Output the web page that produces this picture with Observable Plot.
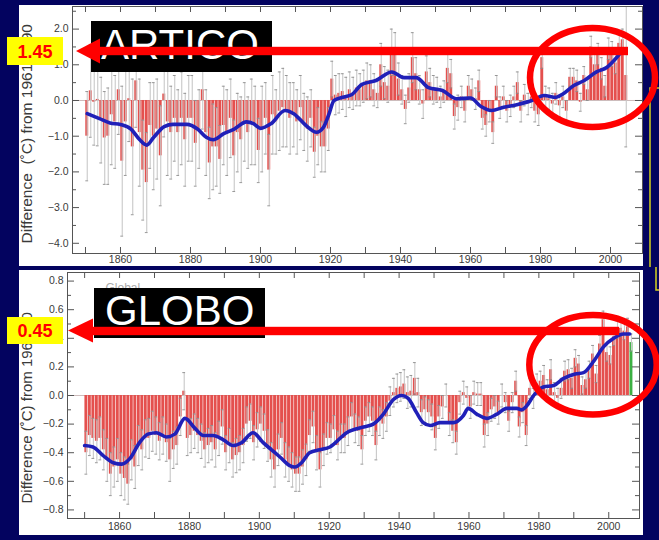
<!DOCTYPE html>
<html><head><meta charset="utf-8">
<script src="https://cdn.jsdelivr.net/npm/d3@7"></script>
<script src="https://cdn.jsdelivr.net/npm/@observablehq/plot@0.6"></script>
<style>
html,body{margin:0;padding:0;}
body{width:659px;height:540px;background:#03035f;position:relative;overflow:hidden;font-family:"Liberation Sans",Arial,sans-serif;}
#top{position:absolute;left:19px;top:5px;}
#bot{position:absolute;left:19px;top:270px;}
#ann{position:absolute;left:0;top:0;pointer-events:none;}
</style></head><body>
<div id="top"></div>
<div id="bot"></div>
<svg id="ann" width="659" height="540" xmlns="http://www.w3.org/2000/svg" font-family="Liberation Sans, Arial, sans-serif">
  <polyline points="659,88 650,88 650,267" fill="none" stroke="#d6d21e" stroke-width="1.5"/>
  <polyline points="656,267 656,290 659,290" fill="none" stroke="#d6d21e" stroke-width="1.5"/>
  <ellipse cx="592.5" cy="77.5" rx="62.5" ry="49.5" fill="none" stroke="#ff0000" stroke-width="6.5"/>
  <rect x="91" y="21" width="181" height="51" fill="#000"/>
  <text x="101" y="58.5" font-size="42" fill="#fff">ARTICO</text>
  <rect x="98" y="46.8" width="530" height="8.4" fill="#ff0000"/>
  <polygon points="76,51 100,38.5 100,63.5" fill="#ff0000"/>
  <rect x="7" y="37" width="56" height="28" fill="#ffff00"/>
  <text x="35" y="57.5" font-size="18" font-weight="bold" fill="#ff0000" text-anchor="middle">1.45</text>

  <ellipse cx="593" cy="364.7" rx="63.7" ry="49.7" fill="none" stroke="#ff0000" stroke-width="6.5"/>
  <rect x="94" y="288" width="171" height="50" fill="#000"/>
  <text x="105" y="325" font-size="42" fill="#fff">GLOBO</text>
  <rect x="90" y="326.8" width="529" height="8.4" fill="#ff0000"/>
  <polygon points="68,330.5 93,318.5 93,342.5" fill="#ff0000"/>
  <rect x="7" y="317" width="56" height="27" fill="#ffff00"/>
  <text x="35" y="337" font-size="18" font-weight="bold" fill="#ff0000" text-anchor="middle">0.45</text>
</svg>
<script>
// ---------- Arctic (top panel) ----------
const arcticStart = 1850;
const arcticValues = [
  -1.00, 0.27, -0.05, 0.03, -0.55, -1.05, -1.00, -0.40, -0.60, 0.30,
  -1.70, -0.60, 0.05, -1.30, 0.55, -0.90, -1.95, -2.30, -0.70, -1.00,
  -0.80, -1.55, 0.18, -0.60, -0.90, -0.50, -0.90, -0.50, -1.10, -0.50,
  -0.50, -1.20, -0.80, 0.30, -0.90, -1.75, -1.30, -1.30, -1.65, -0.70,
  -0.90, -0.50, -1.55, -0.90, -1.10, -0.60, -0.90, -0.60, -0.70, -1.40,
  -0.80, -0.50, -1.95, -0.40, -0.60, -0.30, -0.20, -0.30, -0.50, -0.40,
  -0.60, -0.20, -0.60, -0.80, -0.50, -1.45, -1.00, -1.30, -1.30, -0.80,
  0.60, 0.15, 0.20, 0.25, 0.10, 0.30, 0.20, 0.35, 0.30, 0.40,
  0.55, 0.55, 0.30, 0.20, 1.00, 0.50, 0.40, 1.35, 1.30, 0.60,
  0.30, -0.25, 0.35, 1.20, 0.75, 0.30, -0.10, 0.80, 0.50, 0.30,
  0.30, 0.10, 0.25, 0.90, 0.75, -0.45, -0.20, 0.10, -0.30, 0.40,
  0.30, 0.05, 0.55, -0.50, -0.70, -0.30, -0.90, 0.40, -0.20, 0.10,
  -0.30, -0.15, 0.10, 0.50, -0.30, 0.15, -0.10, 0.10, -0.30, -0.40,
  1.20, 0.10, 0.05, -0.10, 0.20, -0.15, 0.10, -0.30, 0.65, 0.65,
  0.55, -0.05, 0.70, 0.30, 1.50, 1.00, 1.30, 0.90, 0.40, 1.45,
  1.30, 1.05, 1.60, 1.70, 0.70
];
const arcticErrors = [
  1.25, 1.30, 1.20, 1.30, 1.20, 1.30, 1.35, 1.40, 1.30, 1.25,
  2.10, 1.50, 1.20, 1.90, 1.30, 1.50, 1.40, 1.40, 1.20, 1.50,
  1.40, 1.40, 1.20, 1.50, 1.30, 1.20, 1.20, 1.30, 1.30, 1.20,
  1.20, 1.20, 1.10, 1.10, 1.20, 1.00, 1.20, 1.10, 0.95, 1.10,
  1.20, 1.10, 1.00, 1.10, 1.20, 1.10, 1.00, 1.20, 1.10, 0.90,
  1.20, 1.00, 1.00, 1.10, 0.90, 1.10, 1.10, 1.00, 1.00, 0.90,
  0.90, 0.90, 0.80, 0.90, 0.80, 0.70, 0.80, 0.70, 0.70, 0.60,
  0.50, 0.55, 0.55, 0.50, 0.55, 0.50, 0.45, 0.50, 0.45, 0.45,
  0.50, 0.45, 0.45, 0.40, 0.60, 0.45, 0.45, 0.65, 0.60, 0.45,
  0.40, 0.40, 0.40, 0.70, 0.45, 0.40, 0.40, 0.45, 0.40, 0.40,
  0.35, 0.30, 0.30, 0.40, 0.40, 0.35, 0.35, 0.30, 0.30, 0.30,
  0.30, 0.30, 0.30, 0.30, 0.30, 0.30, 0.30, 0.30, 0.30, 0.30,
  0.30, 0.30, 0.30, 0.30, 0.30, 0.30, 0.30, 0.30, 0.30, 0.30,
  0.30, 0.30, 0.30, 0.30, 0.30, 0.30, 0.30, 0.30, 0.25, 0.25,
  0.30, 0.25, 0.25, 0.30, 0.30, 0.30, 0.30, 0.30, 0.30, 0.30,
  0.35, 0.30, 0.30, 0.30, 2.00
];
const arcticSmoothYears = [
  1850.5, 1854, 1857, 1860, 1863, 1865.5, 1867.5, 1869.5, 1872.5, 1875, 1879,
  1882, 1884.5, 1886.5, 1889.5, 1892.5, 1896, 1898, 1900, 1903, 1907, 1909.5,
  1913, 1916, 1918, 1919.5, 1921, 1923.5, 1926, 1929, 1933, 1937.5, 1941, 1944.5,
  1948, 1952, 1956, 1960, 1963, 1966, 1969.5, 1973.5, 1977.5, 1981, 1984.5,
  1986.5, 1989.5, 1992.5, 1996, 1999, 2001, 2003.5
];
const arcticSmoothValues = [
  -0.37, -0.51, -0.63, -0.67, -0.80, -1.10, -1.25, -1.03, -0.73, -0.67, -0.67,
  -0.80, -1.03, -1.10, -0.93, -0.80, -0.60, -0.65, -0.78, -0.65, -0.28, -0.37,
  -0.70, -0.89, -0.75, -0.40, 0.00, 0.09, 0.16, 0.45, 0.56, 0.80, 0.64, 0.64,
  0.36, 0.28, 0.05, 0.07, -0.17, -0.28, -0.19, -0.11, 0.00, 0.14, 0.09,
  0.19, 0.42, 0.56, 0.80, 0.93, 1.12, 1.42
];
const arcticYTicks = [-4, -3.5, -3, -2.5, -2, -1.5, -1, -0.5, 0, 0.5, 1, 1.5, 2, 2.5];
const arcticYLabels = [-4, -3, -2, -1, 0, 1, 2];

// ---------- Globe (bottom panel) ----------
const globeStart = 1850;
const globeValues = [
  -0.40, -0.28, -0.30, -0.32, -0.30, -0.38, -0.45, -0.55, -0.50, -0.45,
  -0.55, -0.58, -0.62, -0.45, -0.50, -0.35, -0.38, -0.30, -0.30, -0.25,
  -0.28, -0.32, -0.28, -0.33, -0.45, -0.38, -0.35, -0.15, 0.03, -0.30,
  -0.28, -0.25, -0.28, -0.32, -0.38, -0.35, -0.33, -0.38, -0.30, -0.22,
  -0.40, -0.35, -0.45, -0.42, -0.40, -0.35, -0.20, -0.18, -0.33, -0.24,
  -0.20, -0.25, -0.35, -0.45, -0.52, -0.38, -0.30, -0.45, -0.48, -0.52,
  -0.55, -0.55, -0.50, -0.45, -0.28, -0.22, -0.40, -0.52, -0.38, -0.30,
  -0.30, -0.24, -0.35, -0.30, -0.30, -0.25, -0.15, -0.23, -0.25, -0.38,
  -0.18, -0.15, -0.18, -0.35, -0.18, -0.20, -0.15, -0.04, 0.02, 0.05,
  0.06, 0.08, 0.02, 0.03, 0.12, 0.02, -0.12, -0.10, -0.12, -0.15,
  -0.30, -0.15, -0.08, 0.00, -0.20, -0.25, -0.33, -0.05, 0.02, -0.02,
  -0.08, 0.02, 0.01, 0.01, -0.28, -0.20, -0.10, -0.08, -0.12, 0.00,
  -0.05, -0.18, -0.05, 0.10, -0.22, -0.12, -0.28, 0.05, -0.02, 0.08,
  0.10, 0.14, 0.04, 0.18, 0.02, -0.02, 0.05, 0.17, 0.18, 0.12,
  0.26, 0.22, 0.07, 0.11, 0.18, 0.29, 0.15, 0.36, 0.53, 0.30,
  0.28, 0.41, 0.46, 0.47, 0.45, 0.48, 0.37
];
const globeErrors = [
  0.15, 0.14, 0.14, 0.15, 0.15, 0.14, 0.15, 0.15, 0.14, 0.15,
  0.15, 0.15, 0.14, 0.14, 0.15, 0.14, 0.14, 0.13, 0.14, 0.14,
  0.13, 0.13, 0.13, 0.13, 0.15, 0.13, 0.13, 0.13, 0.13, 0.12,
  0.12, 0.12, 0.12, 0.12, 0.12, 0.12, 0.12, 0.12, 0.12, 0.12,
  0.12, 0.12, 0.12, 0.12, 0.12, 0.12, 0.12, 0.12, 0.12, 0.12,
  0.12, 0.12, 0.11, 0.12, 0.12, 0.11, 0.11, 0.12, 0.12, 0.12,
  0.12, 0.12, 0.12, 0.11, 0.11, 0.11, 0.12, 0.12, 0.11, 0.11,
  0.10, 0.10, 0.10, 0.10, 0.10, 0.10, 0.10, 0.10, 0.10, 0.10,
  0.10, 0.10, 0.10, 0.10, 0.10, 0.10, 0.10, 0.10, 0.10, 0.10,
  0.10, 0.10, 0.11, 0.11, 0.11, 0.10, 0.09, 0.09, 0.09, 0.09,
  0.08, 0.08, 0.08, 0.08, 0.08, 0.08, 0.08, 0.08, 0.08, 0.08,
  0.08, 0.08, 0.08, 0.08, 0.08, 0.08, 0.08, 0.08, 0.08, 0.08,
  0.07, 0.07, 0.07, 0.07, 0.07, 0.07, 0.07, 0.07, 0.07, 0.07,
  0.07, 0.07, 0.07, 0.07, 0.07, 0.07, 0.07, 0.07, 0.07, 0.07,
  0.06, 0.06, 0.06, 0.06, 0.06, 0.06, 0.06, 0.06, 0.06, 0.06,
  0.06, 0.06, 0.06, 0.06, 0.06, 0.06, 0.06
];
const globeSmoothYears = [
  1850, 1852.4, 1855.3, 1858.2, 1860.6, 1863, 1865.7, 1868.1, 1870.5, 1873.4,
  1875.8, 1878.7, 1881.6, 1884, 1886.8, 1889.7, 1892.5, 1894.9, 1898.2, 1901.1,
  1903.5, 1905.9, 1908.7, 1910.2, 1912.1, 1914.4, 1917.3, 1920.2, 1925, 1929.8,
  1932.6, 1935.5, 1938.3, 1940.7, 1942.6, 1945, 1946.9, 1948.9, 1951.7, 1955.5,
  1958.4, 1959.8, 1962.2, 1965.1, 1968, 1970.8, 1973.7, 1975.1, 1976.6, 1978.5,
  1981.3, 1984.2, 1987.1, 1990.4, 1992.8, 1995.7, 1998.5, 2001.4, 2004.2, 2006
];
const globeSmoothValues = [
  -0.35, -0.36, -0.42, -0.47, -0.48, -0.44, -0.33, -0.27, -0.26, -0.29,
  -0.27, -0.16, -0.23, -0.28, -0.28, -0.31, -0.35, -0.33, -0.26, -0.33,
  -0.38, -0.43, -0.49, -0.50, -0.47, -0.40, -0.38, -0.36, -0.26, -0.22,
  -0.20, -0.13, -0.03, 0.00, -0.02, -0.12, -0.19, -0.21, -0.19, -0.19,
  -0.14, -0.09, -0.13, -0.16, -0.13, -0.09, -0.09, -0.10, -0.07, 0.00,
  0.06, 0.07, 0.12, 0.15, 0.16, 0.24, 0.34, 0.40, 0.43, 0.43
];
const globeYTicks = [-0.8, -0.7, -0.6, -0.5, -0.4, -0.3, -0.2, -0.1, 0, 0.1, 0.2, 0.3, 0.4, 0.5, 0.6, 0.7, 0.8];
const globeYLabels = [-0.8, -0.6, -0.4, -0.2, 0, 0.2, 0.4, 0.6, 0.8];

// ---------- shared x ticks ----------
const xTickYears = [1850, 1860, 1870, 1880, 1890, 1900, 1910, 1920, 1930, 1940, 1950, 1960, 1970, 1980, 1990, 2000];
const xTickLabels = [1860, 1880, 1900, 1920, 1940, 1960, 1980, 2000];

function makePanel(cfg) {
  const rows = cfg.values.map((v, i) => ({year: cfg.start + i, value: v, err: cfg.errors[i], last: i === cfg.values.length - 1}));
  const smooth = cfg.smoothYears.map((y, i) => ({year: y, value: cfg.smoothValues[i]}));
  const fw = cfg.width - cfg.ml - cfg.mr;
  const fh = cfg.height - cfg.mt - cfg.mb;
  const fmt = d => (d < 0 ? "\u2212" : "") + Math.abs(d).toFixed(1);
  const isLabel = t => cfg.yLabels.some(l => Math.abs(l - t) < 1e-9);
  const majorY = cfg.yTicks.filter(isLabel);
  const minorY = cfg.yTicks.filter(t => !isLabel(t));
  const tickStroke = "#555";
  return Plot.plot({
    width: cfg.width, height: cfg.height,
    marginLeft: cfg.ml, marginRight: cfg.mr, marginTop: cfg.mt, marginBottom: cfg.mb,
    style: {background: "white", color: "#3a3a3a", fontFamily: "'Liberation Sans', Arial, sans-serif", fontSize: "10.5px"},
    x: {domain: cfg.xDomain, label: null},
    y: {domain: cfg.yDomain, label: null},
    marks: [
      Plot.ruleY([0], {stroke: "#cdbcbc"}),
      Plot.rect(rows, {x1: d => d.year, x2: d => d.year + 1, y1: () => 0, y2: "value",
        insetLeft: 0.3, insetRight: 0.3,
        fill: d => (d.last && cfg.lastGreen) ? "#3cb043" : "#e4504e", clip: true}),
      Plot.ruleX(rows, {x: d => d.year + 0.5, y1: d => d.value - d.err, y2: d => d.value + d.err,
        stroke: "#c8c8c8", strokeWidth: 1.1, clip: true}),
      Plot.ruleY(rows, {y: d => d.value + d.err, x1: d => d.year + 0.1, x2: d => d.year + 0.9,
        stroke: "#8c8c8c", strokeWidth: 0.9, clip: true}),
      Plot.ruleY(rows, {y: d => d.value - d.err, x1: d => d.year + 0.1, x2: d => d.year + 0.9,
        stroke: "#8c8c8c", strokeWidth: 0.9, clip: true}),
      Plot.line(smooth, {x: "year", y: "value", curve: "monotone-x", stroke: "#2020b8", strokeWidth: 3.6}),
      Plot.frame({stroke: tickStroke}),
      Plot.tickX(xTickYears, {x: d => d, insetTop: fh - 6, stroke: tickStroke}),
      Plot.tickX(xTickYears, {x: d => d, insetBottom: fh - 6, stroke: tickStroke}),
      Plot.tickY(majorY, {y: d => d, insetRight: fw - 7, stroke: tickStroke}),
      Plot.tickY(minorY, {y: d => d, insetRight: fw - 4, stroke: tickStroke}),
      Plot.tickY(majorY, {y: d => d, insetLeft: fw - 7, stroke: tickStroke}),
      Plot.tickY(minorY, {y: d => d, insetLeft: fw - 4, stroke: tickStroke}),
      Plot.axisX(xTickLabels, {anchor: "bottom", label: null, tickSize: 0, tickPadding: cfg.xPad, tickFormat: d => String(d)}),
      Plot.axisY(cfg.yLabels, {anchor: "left", label: null, tickSize: 0, tickPadding: 4, tickFormat: fmt}),
      Plot.text([cfg.title], {text: d => d, frameAnchor: "bottom-left", rotate: -90, textAnchor: "start",
        dx: cfg.titleDx, dy: cfg.titleDy, fontSize: cfg.titleSize, fill: "#3a3a3a"}),
      ...(cfg.extra || [])
    ]
  });
}

document.getElementById("top").appendChild(makePanel({
  values: arcticValues, errors: arcticErrors, start: arcticStart,
  smoothYears: arcticSmoothYears, smoothValues: arcticSmoothValues,
  width: 624, height: 261, ml: 53, mr: 1, mt: 1, mb: 13,
  xDomain: [1846.29, 2009.14], yDomain: [-4.286, 2.633],
  yTicks: arcticYTicks, yLabels: arcticYLabels, xPad: 2,
  title: "Difference  (\u02DAC) from 1961-1990", titleSize: 15.5, titleDx: -41, titleDy: -10,
  lastGreen: false
}));

document.getElementById("bot").appendChild(makePanel({
  values: globeValues, errors: globeErrors, start: globeStart,
  smoothYears: globeSmoothYears, smoothValues: globeSmoothValues,
  width: 624, height: 265, ml: 48, mr: 4, mt: 2, mb: 17,
  xDomain: [1845.1, 2008.8], yDomain: [-0.86, 0.86],
  yTicks: globeYTicks, yLabels: globeYLabels, xPad: 4,
  title: "Difference (\u02DAC) from 1961-90", titleSize: 15, titleDx: -36, titleDy: -15,
  lastGreen: true,
  extra: [Plot.text(["Global"], {text: d => d, frameAnchor: "top-left", textAnchor: "start", lineAnchor: "top", dx: 38, dy: 11, fontSize: 12, fill: "#aaa"})]
}));
</script>
</body></html>
